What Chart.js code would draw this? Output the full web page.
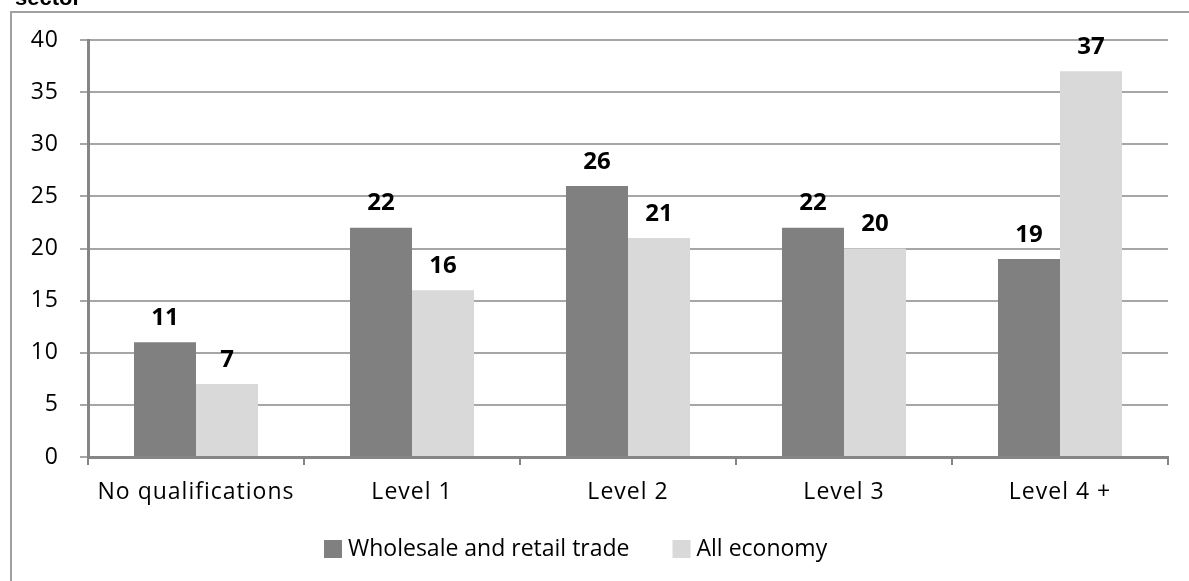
<!DOCTYPE html>
<html>
<head>
<meta charset="utf-8">
<script src="https://cdn.jsdelivr.net/npm/chart.js@4/dist/chart.umd.min.js"></script>
<style>
  html, body { margin: 0; padding: 0; background: #ffffff; }
  #wrap { position: relative; width: 1189px; height: 581px; overflow: hidden; }
  canvas { display: block; }
</style>
</head>
<body>
<div id="wrap"><canvas id="chart" width="1189" height="581"></canvas></div>
<script>
// Share of employment by qualification level (%)
const categories = ['No qualifications', 'Level 1', 'Level 2', 'Level 3', 'Level 4 +'];
const wholesaleRetail = [11, 22, 26, 22, 19];
const allEconomy = [7, 16, 21, 20, 37];
const seriesNames = ['Wholesale and retail trade', 'All economy'];
const yTicks = [0, 5, 10, 15, 20, 25, 30, 35, 40];

const FONT = "'Open Sans', sans-serif";
const DARK = '#808080';
const LIGHT = '#d9d9d9';
const GRID = '#a6a6a6';
const AXIS = '#868686';

// Frame, clipped heading, value labels and legend
const decorations = {
  id: 'decorations',
  beforeDraw(chart) {
    const ctx = chart.ctx;
    ctx.save();
    ctx.fillStyle = '#ffffff';
    ctx.fillRect(0, 0, chart.width, chart.height);
    ctx.strokeStyle = '#a0a0a0';
    ctx.lineWidth = 2;
    ctx.beginPath();
    ctx.moveTo(11, chart.height + 5);
    ctx.lineTo(11, 12);
    ctx.lineTo(chart.width + 5, 12);
    ctx.stroke();
    ctx.fillStyle = '#000000';
    ctx.font = "bold 22px 'Liberation Sans', Arial, sans-serif";
    ctx.textAlign = 'left';
    ctx.textBaseline = 'alphabetic';
    ctx.fillText('sector', 15, 5);
    ctx.restore();
    // axis tick labels are set slightly spaced out
    ctx.letterSpacing = '1px';
  },
  afterDatasetsDraw(chart) {
    const ctx = chart.ctx;
    ctx.save();
    ctx.letterSpacing = '0px';
    ctx.fillStyle = '#000000';
    ctx.font = 'bold 24px ' + FONT;
    ctx.textAlign = 'center';
    ctx.textBaseline = 'middle';
    chart.data.datasets.forEach((ds, i) => {
      const meta = chart.getDatasetMeta(i);
      meta.data.forEach((bar, j) => {
        ctx.fillText(String(ds.data[j]), bar.x, bar.y - 24);
      });
    });
    ctx.restore();
  },
  afterDraw(chart) {
    const ctx = chart.ctx;
    ctx.save();
    ctx.letterSpacing = '0px';
    ctx.font = '23px ' + FONT;
    ctx.textBaseline = 'middle';
    ctx.textAlign = 'left';
    const box = 18, gapText = 6, gapItem = 43;
    let x = 324;
    const y = 549;
    chart.data.datasets.forEach(ds => {
      const w = ctx.measureText(ds.label).width;
      ctx.fillStyle = ds.backgroundColor;
      ctx.fillRect(x, y - box / 2, box, box);
      ctx.fillStyle = '#000000';
      ctx.fillText(ds.label, x + box + gapText, y);
      x += box + gapText + w + gapItem;
    });
    ctx.restore();
    ctx.letterSpacing = '0px';
  }
};

new Chart(document.getElementById('chart'), {
  type: 'bar',
  data: {
    labels: categories,
    datasets: [
      { label: seriesNames[0], data: wholesaleRetail, backgroundColor: DARK, borderWidth: 0 },
      { label: seriesNames[1], data: allEconomy, backgroundColor: LIGHT, borderWidth: 0 }
    ]
  },
  options: {
    responsive: false,
    animation: false,
    layout: { padding: { top: 40, left: 0, right: 21, bottom: 0 } },
    datasets: { bar: { categoryPercentage: 0.574, barPercentage: 1.0 } },
    plugins: { legend: { display: false }, tooltip: { enabled: false } },
    scales: {
      x: {
        offset: true,
        afterFit(scale) { scale.height = 124; },
        grid: { display: true, drawOnChartArea: false, offset: true, drawTicks: true, tickLength: 8, color: AXIS, lineWidth: 2 },
        border: { display: true, color: AXIS, width: 3 },
        ticks: { color: '#000000', font: { family: FONT, size: 23 }, padding: 14, maxRotation: 0 }
      },
      y: {
        min: 0, max: 40,
        afterFit(scale) { scale.width = 88; },
        afterBuildTicks(scale) { scale.ticks = yTicks.map(v => ({ value: v })); },
        grid: { color: GRID, lineWidth: 2, drawTicks: true, tickLength: 8 },
        border: { display: true, color: AXIS, width: 3 },
        ticks: { color: '#000000', font: { family: FONT, size: 23 }, padding: 21 }
      }
    }
  },
  plugins: [decorations]
});
</script>
</body>
</html>
